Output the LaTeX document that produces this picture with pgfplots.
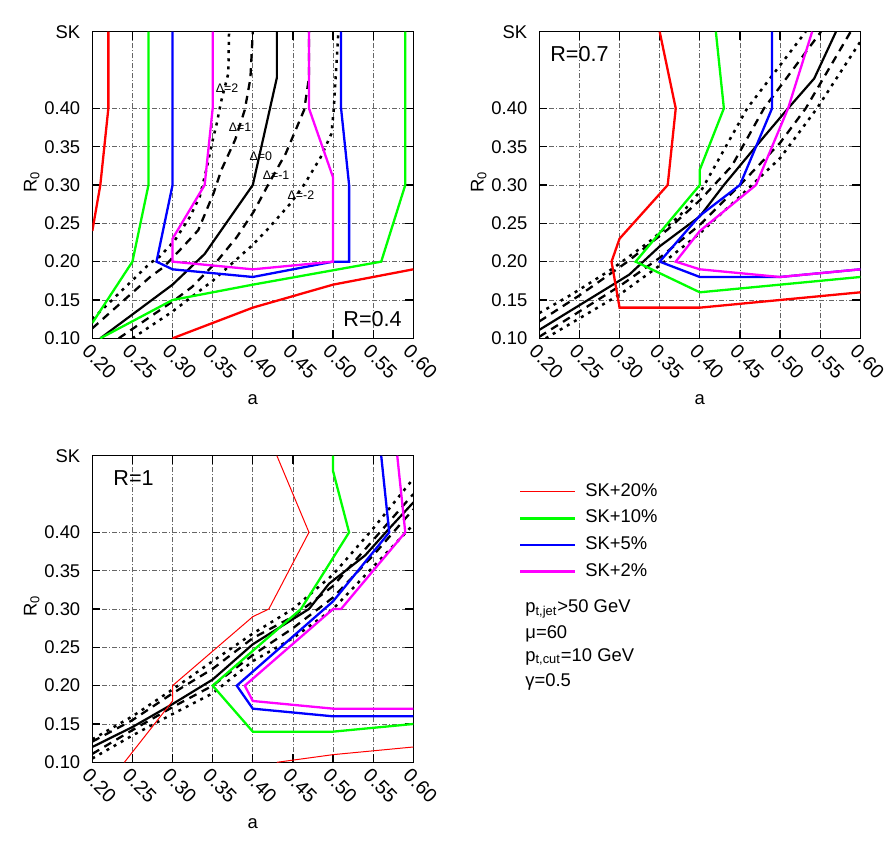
\documentclass[border=0pt]{standalone}
\usepackage{fontspec}
\setmainfont{Liberation Sans}
\usepackage{pgfplots}
\pgfplotsset{compat=1.18}

\newcommand\tfont{\fontsize{9.2}{11}\selectfont}
\newcommand\xfont{\fontsize{9.8}{11}\selectfont}
\newcommand\bfont{\fontsize{10.8}{13}\selectfont}
\newcommand\sfont{\fontsize{6.2}{7}\selectfont}

\definecolor{gpred}{RGB}{255,0,0}
\definecolor{gpgreen}{RGB}{0,255,0}
\definecolor{gpblue}{RGB}{0,0,255}
\definecolor{gpmag}{RGB}{255,0,255}

\pgfplotsset{
  panel/.style={
    scale only axis, width=160.5pt, height=153.3pt, anchor=south west,
    xmin=0.2, xmax=0.6, ymin=0.1, ymax=0.5,
    xtick={0.20,0.25,0.30,0.35,0.40,0.45,0.50,0.55,0.60},
    xticklabels={0.20,0.25,0.30,0.35,0.40,0.45,0.50,0.55,0.60},
    ytick={0.10,0.15,0.20,0.25,0.30,0.35,0.40,0.50},
    yticklabels={0.10,0.15,0.20,0.25,0.30,0.35,0.40,SK},
    grid=major,
    grid style={black!60, line width=0.35pt, dash pattern=on 2.5pt off 1pt on 0.5pt off 1pt},
    tick align=inside, major tick length=4pt,
    tick style={black, line width=0.6pt},
    axis line style={line width=0.7pt},
    ticklabel style={font=\tfont},
    xticklabel style={font=\xfont, rotate=-45, anchor=north west, inner sep=1pt, yshift=-1pt},
    yticklabel style={xshift=-2.5pt},
    xlabel={a}, ylabel={R\textsubscript{0}},
    label style={font=\tfont},
    xlabel style={at={(axis description cs:0.5,-0.201)}, anchor=center},
    ylabel style={at={(axis description cs:-0.189,0.51)}, anchor=center},
    clip mode=individual,
    every axis plot/.append style={no markers},
  },
  d2/.style={black, line width=1.25pt, dash pattern=on 1.5pt off 2.6pt},
  d1/.style={black, line width=1.15pt, dash pattern=on 4pt off 3pt},
  d0/.style={black, line width=1.1pt},
  cl/.style={line width=1.15pt},
}

\begin{document}
\begin{tikzpicture}
\useasboundingbox (0,0) rectangle (446pt,424pt);

% ---- R=0.4 ----
\begin{axis}[panel, at={(46.15pt,254.85pt)}]
\addplot[d2] coordinates {(0.20,0.125) (0.272,0.198) (0.284,0.2065) (0.303,0.228) (0.322,0.259) (0.334,0.285) (0.343,0.324) (0.349,0.354) (0.355,0.38) (0.361,0.411) (0.3695,0.4456) (0.3704,0.50)};
\addplot[d1] coordinates {(0.20,0.113) (0.272,0.18) (0.289,0.193) (0.309,0.215) (0.332,0.241) (0.351,0.289) (0.361,0.32) (0.378,0.359) (0.39,0.398) (0.397,0.439) (0.40,0.50)};
\addplot[d0] coordinates {(0.21,0.10) (0.30,0.17) (0.34,0.21) (0.40,0.30) (0.43,0.44) (0.43,0.50)};
\addplot[d1] coordinates {(0.233,0.10) (0.30,0.148) (0.3243,0.167) (0.355,0.20) (0.38,0.232) (0.401,0.265) (0.42,0.302) (0.441,0.341) (0.464,0.398) (0.47,0.44) (0.47,0.50)};
\addplot[d2] coordinates {(0.25,0.10) (0.30,0.135) (0.35,0.175) (0.40,0.222) (0.4174,0.241) (0.447,0.276) (0.465,0.302) (0.485,0.337) (0.498,0.367) (0.501,0.40) (0.5066,0.50)};
\addplot[cl, gpred] coordinates {(0.20,0.24) (0.21,0.30) (0.22,0.40) (0.22,0.50)};
\addplot[cl, gpred] coordinates {(0.30,0.10) (0.40,0.14) (0.50,0.17) (0.60,0.19)};
\addplot[cl, gpgreen] coordinates {(0.20,0.12) (0.25,0.20) (0.27,0.30) (0.27,0.50)};
\addplot[cl, gpgreen] coordinates {(0.21,0.10) (0.30,0.15) (0.40,0.17) (0.56,0.20) (0.59,0.30) (0.59,0.50)};
\addplot[cl, gpblue] coordinates {(0.30,0.50) (0.30,0.30) (0.28,0.20) (0.30,0.19) (0.40,0.18) (0.50,0.20) (0.52,0.20) (0.52,0.30) (0.51,0.40) (0.51,0.50)};
\addplot[cl, gpmag] coordinates {(0.35,0.50) (0.35,0.40) (0.34,0.30) (0.30,0.23) (0.30,0.20) (0.40,0.19) (0.50,0.20) (0.50,0.31) (0.47,0.40) (0.47,0.50)};
\node[font=\sfont, inner sep=0pt] at (axis cs:0.368,0.426) {Δ=2};
\node[font=\sfont, inner sep=0pt] at (axis cs:0.384,0.376) {Δ=1};
\node[font=\sfont, inner sep=0pt] at (axis cs:0.410,0.337) {Δ=0};
\node[font=\sfont, inner sep=0pt] at (axis cs:0.429,0.313) {Δ=-1};
\node[font=\sfont, inner sep=0pt] at (axis cs:0.460,0.287) {Δ=-2};
\node[font=\bfont, inner sep=0pt, anchor=east] at (axis description cs:0.965,0.063) {R=0.4};
\end{axis}

% ---- R=0.7 ----
\begin{axis}[panel, at={(269.65pt,254.85pt)}]
\addplot[d2] coordinates {(0.20,0.133) (0.24,0.157) (0.29,0.19) (0.337,0.226) (0.375,0.26) (0.403,0.295) (0.459,0.40) (0.532,0.50)};
\addplot[d1] coordinates {(0.20,0.122) (0.25,0.156) (0.31,0.20) (0.36,0.242) (0.40,0.28) (0.44,0.325) (0.48,0.40) (0.551,0.50)};
\addplot[d0] coordinates {(0.20,0.111) (0.312,0.183) (0.35,0.22) (0.40,0.259) (0.43,0.30) (0.48,0.363) (0.51,0.40) (0.5426,0.439) (0.5697,0.50)};
\addplot[d1] coordinates {(0.20,0.102) (0.30,0.168) (0.35,0.205) (0.40,0.248) (0.45,0.30) (0.50,0.355) (0.532,0.40) (0.588,0.50)};
\addplot[d2] coordinates {(0.208,0.10) (0.30,0.157) (0.35,0.195) (0.40,0.237) (0.45,0.285) (0.50,0.335) (0.546,0.40) (0.60,0.487)};
\addplot[cl, gpred] coordinates {(0.35,0.50) (0.37,0.40) (0.36,0.30) (0.30,0.23) (0.29,0.20) (0.30,0.14) (0.40,0.14) (0.50,0.15) (0.60,0.16)};
\addplot[cl, gpgreen] coordinates {(0.42,0.50) (0.43,0.40) (0.40,0.32) (0.40,0.30) (0.32,0.20) (0.40,0.16) (0.50,0.17) (0.60,0.18)};
\addplot[cl, gpblue] coordinates {(0.49,0.50) (0.49,0.40) (0.45,0.30) (0.40,0.26) (0.35,0.20) (0.40,0.18) (0.50,0.18) (0.60,0.19)};
\addplot[cl, gpmag] coordinates {(0.54,0.50) (0.51,0.40) (0.47,0.30) (0.40,0.24) (0.37,0.20) (0.40,0.19) (0.50,0.18) (0.60,0.19)};
\node[font=\bfont, inner sep=0pt, anchor=west] at (axis description cs:0.033,0.926) {R=0.7};
\end{axis}

% ---- R=1 ----
\begin{axis}[panel, at={(46.15pt,42.85pt)},
  legend style={at={(axis description cs:1.328,0.921)}, anchor=north west,
    draw=none, fill=none, inner sep=0pt, row sep=1.8pt,
    nodes={inner sep=1.5pt, text height=6.5pt, text depth=2pt, font=\tfont}},
  legend cell align=left,
  legend image code/.code={\draw[#1] (0pt,0pt) -- (27.5pt,0pt); \path (30.5pt,0pt);}]
\addplot[d2, forget plot] coordinates {(0.20,0.13) (0.25,0.16) (0.30,0.195) (0.35,0.232) (0.40,0.268) (0.45,0.30) (0.50,0.345) (0.55,0.405) (0.60,0.47)};
\addplot[d1, forget plot] coordinates {(0.20,0.127) (0.25,0.155) (0.30,0.19) (0.35,0.222) (0.40,0.262) (0.45,0.29) (0.50,0.33) (0.55,0.39) (0.60,0.45)};
\addplot[d0, forget plot] coordinates {(0.20,0.12) (0.25,0.146) (0.30,0.176) (0.35,0.208) (0.40,0.254) (0.47,0.30) (0.495,0.333) (0.54,0.37) (0.57,0.405) (0.60,0.439)};
\addplot[d1, forget plot] coordinates {(0.20,0.111) (0.25,0.142) (0.30,0.172) (0.35,0.20) (0.40,0.24) (0.45,0.275) (0.50,0.315) (0.55,0.37) (0.60,0.43)};
\addplot[d2, forget plot] coordinates {(0.20,0.105) (0.25,0.135) (0.30,0.163) (0.35,0.19) (0.40,0.232) (0.45,0.262) (0.50,0.30) (0.55,0.355) (0.60,0.41)};
\addplot[gpred, line width=0.5pt, forget plot] coordinates {(0.43,0.50) (0.47,0.40) (0.42,0.30) (0.40,0.29) (0.30,0.20) (0.30,0.18) (0.24,0.10)};
\addplot[gpred, line width=0.5pt, forget plot] coordinates {(0.43,0.10) (0.50,0.11) (0.60,0.12)};
\addplot[cl, gpgreen, forget plot] coordinates {(0.50,0.50) (0.50,0.48) (0.52,0.40) (0.46,0.30) (0.35,0.20) (0.40,0.14) (0.50,0.14) (0.60,0.15)};
\addplot[cl, gpblue, forget plot] coordinates {(0.56,0.50) (0.57,0.40) (0.50,0.31) (0.38,0.20) (0.40,0.17) (0.50,0.16) (0.60,0.16)};
\addplot[cl, gpmag, forget plot] coordinates {(0.58,0.50) (0.59,0.40) (0.51,0.30) (0.50,0.30) (0.39,0.20) (0.40,0.18) (0.50,0.17) (0.60,0.17)};
\addlegendimage{gpred, line width=0.5pt}\addlegendentry{SK+20\%}
\addlegendimage{gpgreen, line width=1.15pt}\addlegendentry{SK+10\%}
\addlegendimage{gpblue, line width=1.15pt}\addlegendentry{SK+5\%}
\addlegendimage{gpmag, line width=1.15pt}\addlegendentry{SK+2\%}
\node[font=\bfont, inner sep=0pt, anchor=west] at (axis description cs:0.0645,0.926) {R=1};
\node[font=\tfont, inner sep=0pt, anchor=west] at (axis description cs:1.348,0.500) {p\textsubscript{t,jet}>50 GeV};
\node[font=\tfont, inner sep=0pt, anchor=west] at (axis description cs:1.348,0.418) {μ=60};
\node[font=\tfont, inner sep=0pt, anchor=west] at (axis description cs:1.348,0.343) {p\textsubscript{t,cut}=10 GeV};
\node[font=\tfont, inner sep=0pt, anchor=west] at (axis description cs:1.348,0.262) {γ=0.5};
\end{axis}
\end{tikzpicture}
\end{document}
